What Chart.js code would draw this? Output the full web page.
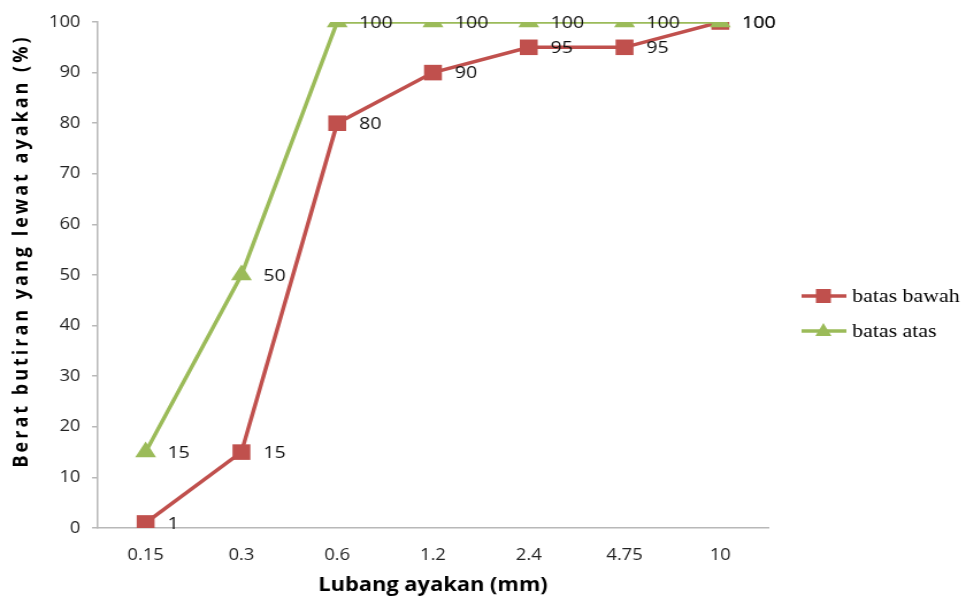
<!DOCTYPE html>
<html>
<head>
<meta charset="utf-8">
<script src="https://cdn.jsdelivr.net/npm/chart.js@4.4.1/dist/chart.umd.min.js"></script>
<style>
  html, body { margin: 0; padding: 0; background: #fff; overflow: hidden; }
  /* chart is laid out narrow, then widened to the page */
  #wrap { width: 840px; height: 603px; transform: scaleX(1.15); transform-origin: 0 0; }
</style>
</head>
<body>
<div id="wrap"><canvas id="sieveChart" width="840" height="603"></canvas></div>
<script>
// sieve opening (mm) and passing limits (%)
const sieveSizes = ['0.15', '0.3', '0.6', '1.2', '2.4', '4.75', '10'];
const lowerLimit = [1, 15, 80, 90, 95, 95, 100];
const upperLimit = [15, 50, 100, 100, 100, 100, 100];
const seriesNames = ['batas bawah', 'batas atas'];
const yTitle = 'Berat butiran yang lewat ayakan (%)';
const xTitle = 'Lubang ayakan (mm)';

const RED = '#c0504d';
const GREEN = '#9bbb59';
const AXIS = '#b8b8b8';
const FONT = '"Open Sans", sans-serif';

// value labels to the right of every point
const pointLabels = {
    id: 'pointLabels',
    afterDatasetsDraw(chart) {
        const ctx = chart.ctx;
        ctx.save();
        ctx.font = '17px ' + FONT;
        ctx.fillStyle = '#111';
        ctx.textAlign = 'left';
        ctx.textBaseline = 'middle';
        chart.data.datasets.forEach((ds, i) => {
            chart.getDatasetMeta(i).data.forEach((pt, j) => {
                ctx.fillText(String(ds.data[j]), pt.x + 19, pt.y + 1);
            });
        });
        ctx.restore();
    }
};

// rotated y title, spaced out a little
const yAxisTitle = {
    id: 'yAxisTitle',
    afterDraw(chart) {
        const ctx = chart.ctx;
        ctx.save();
        ctx.translate(19, 251);
        ctx.rotate(-Math.PI / 2);
        ctx.font = 'bold 18px ' + FONT;
        ctx.letterSpacing = '3px';
        ctx.fillStyle = '#000';
        ctx.textAlign = 'center';
        ctx.textBaseline = 'middle';
        ctx.fillText(yTitle, 0, 0);
        ctx.restore();
    }
};

// legend on the right: line with marker, serif text
const sideLegend = {
    id: 'sideLegend',
    afterDraw(chart) {
        const ctx = chart.ctx;
        const rows = [
            { y: 296, color: RED, shape: 'rect' },
            { y: 331, color: GREEN, shape: 'triangle' }
        ];
        ctx.save();
        rows.forEach((r, i) => {
            ctx.strokeStyle = r.color;
            ctx.fillStyle = r.color;
            ctx.lineWidth = 3.5;
            ctx.beginPath();
            ctx.moveTo(697, r.y);
            ctx.lineTo(736, r.y);
            ctx.stroke();
            ctx.beginPath();
            if (r.shape === 'rect') {
                ctx.rect(709.5, r.y - 7, 13, 14);
            } else {
                ctx.moveTo(716, r.y - 8);
                ctx.lineTo(723, r.y + 5);
                ctx.lineTo(709, r.y + 5);
                ctx.closePath();
            }
            ctx.fill();
            ctx.font = '19px "Liberation Serif", serif';
            ctx.fillStyle = '#000';
            ctx.textBaseline = 'middle';
            ctx.fillText(seriesNames[i], 741, r.y + 1);
        });
        ctx.restore();
    }
};

new Chart(document.getElementById('sieveChart'), {
    type: 'line',
    data: {
        labels: sieveSizes,
        datasets: [
            {
                label: seriesNames[0],
                data: lowerLimit,
                borderColor: RED,
                backgroundColor: RED,
                borderWidth: 3.5,
                pointStyle: 'rect',
                pointRadius: 11,
                pointHoverRadius: 11,
                pointBorderWidth: 0,
                order: 1
            },
            {
                label: seriesNames[1],
                data: upperLimit,
                borderColor: GREEN,
                backgroundColor: GREEN,
                borderWidth: 3.5,
                pointStyle: 'triangle',
                pointRadius: 10.5,
                pointHoverRadius: 10.5,
                pointBorderWidth: 0,
                order: 0
            }
        ]
    },
    options: {
        responsive: false,
        animation: false,
        events: [],
        layout: { padding: { left: 0, top: 22, right: 172, bottom: 6 } },
        plugins: {
            legend: { display: false },
            tooltip: { enabled: false }
        },
        scales: {
            x: {
                offset: true,
                grid: { display: false },
                border: { color: AXIS, width: 1.5 },
                ticks: { color: '#222', font: { family: FONT, size: 16 }, padding: 10 },
                title: {
                    display: true,
                    text: xTitle,
                    color: '#000',
                    font: { family: FONT, size: 19, weight: 'bold' },
                    padding: { top: 0, bottom: 0 }
                },
                afterFit(scale) { scale.height = 69; }
            },
            y: {
                min: 0,
                max: 100,
                ticks: { stepSize: 10, color: '#222', font: { family: FONT, size: 16 }, padding: 10 },
                grid: { drawOnChartArea: false, drawTicks: true, tickLength: 5, color: AXIS, lineWidth: 1.5 },
                border: { color: AXIS, width: 1.5 },
                afterFit(scale) { scale.width = 85; }
            }
        }
    },
    plugins: [pointLabels, yAxisTitle, sideLegend]
});
</script>
</body>
</html>
